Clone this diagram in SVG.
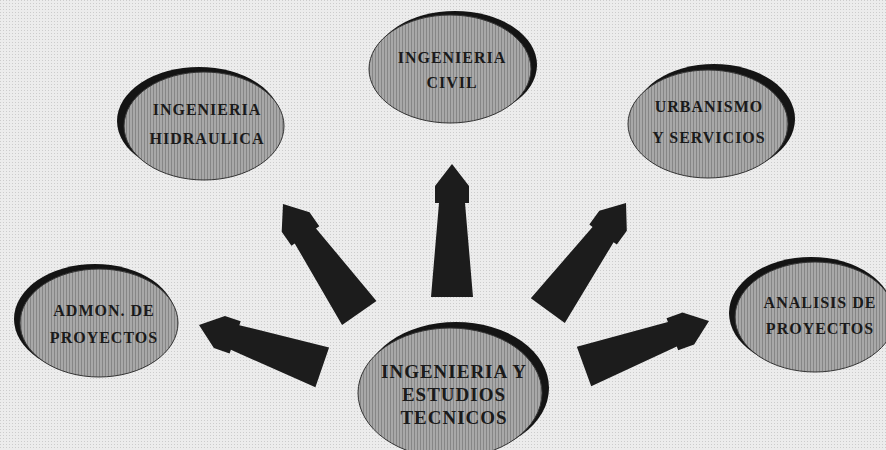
<svg xmlns="http://www.w3.org/2000/svg" width="886" height="450" viewBox="0 0 886 450">
<defs>
<pattern id="bgdots" width="3" height="3" patternUnits="userSpaceOnUse">
<rect width="3" height="3" fill="#ececec"/>
<rect x="0" y="0" width="1" height="1" fill="#cccccc"/>
</pattern>
<pattern id="half" width="3" height="3" patternUnits="userSpaceOnUse">
<rect width="3" height="3" fill="#a8a8a8"/>
<rect x="0" y="0" width="1" height="3" fill="#868686"/>
</pattern>
<polygon id="arrowShape" points="0,0 17,22 17,39 13,39 21,133 -21,133 -13,39 -17,39 -17,22"/>
</defs>
<style>
.shadow{fill:#141414}
.body{fill:url(#half);stroke:#333;stroke-width:1}
.lbl{font-family:"Liberation Serif","Times New Roman",serif;font-weight:bold;fill:#1a1a1a;text-anchor:middle;letter-spacing:1px}
.arrow{fill:#1c1c1c}
</style>
<rect width="886" height="450" fill="url(#bgdots)"/>

<g id="connectors">
<use href="#arrowShape" class="arrow" transform="translate(452,164)"/>
<use href="#arrowShape" class="arrow" transform="translate(283,204) rotate(-35)"/>
<use href="#arrowShape" class="arrow" transform="translate(626,203) rotate(36)"/>
<use href="#arrowShape" class="arrow" transform="translate(199,325) rotate(-71) scale(1,0.98)"/>
<use href="#arrowShape" class="arrow" transform="translate(709,321) rotate(70)"/>
</g>

<g id="node-civil">
<ellipse class="shadow" cx="455" cy="65" rx="82" ry="54"/>
<ellipse class="body" cx="450" cy="69" rx="81" ry="54"/>
<text class="lbl" x="452" y="63" font-size="16">INGENIERIA</text>
<text class="lbl" x="452" y="88" font-size="16">CIVIL</text>
</g>

<g id="node-hidraulica">
<ellipse class="shadow" cx="199" cy="121" rx="82" ry="54"/>
<ellipse class="body" cx="204" cy="126" rx="80" ry="54"/>
<text class="lbl" x="207" y="115" font-size="16">INGENIERIA</text>
<text class="lbl" x="207" y="144" font-size="16">HIDRAULICA</text>
</g>

<g id="node-urbanismo">
<ellipse class="shadow" cx="714" cy="119" rx="81" ry="55"/>
<ellipse class="body" cx="708" cy="124" rx="80" ry="54"/>
<text class="lbl" x="709" y="112" font-size="16">URBANISMO</text>
<text class="lbl" x="709" y="143" font-size="16">Y SERVICIOS</text>
</g>

<g id="node-admon">
<ellipse class="shadow" cx="95" cy="319" rx="81" ry="55"/>
<ellipse class="body" cx="99" cy="323" rx="79" ry="54"/>
<text class="lbl" x="104" y="316" font-size="16">ADMON. DE</text>
<text class="lbl" x="104" y="343" font-size="16">PROYECTOS</text>
</g>

<g id="node-analisis">
<ellipse class="shadow" cx="811" cy="313" rx="82" ry="56"/>
<ellipse class="body" cx="815" cy="317" rx="80" ry="55"/>
<text class="lbl" x="820" y="308" font-size="16">ANALISIS DE</text>
<text class="lbl" x="820" y="334" font-size="16">PROYECTOS</text>
</g>

<g id="node-center">
<ellipse class="shadow" cx="456" cy="388" rx="93" ry="66"/>
<ellipse class="body" cx="450" cy="393" rx="92" ry="65"/>
<text class="lbl" x="454" y="378" font-size="19">INGENIERIA Y</text>
<text class="lbl" x="454" y="401" font-size="19">ESTUDIOS</text>
<text class="lbl" x="454" y="424" font-size="19">TECNICOS</text>
</g>
</svg>
